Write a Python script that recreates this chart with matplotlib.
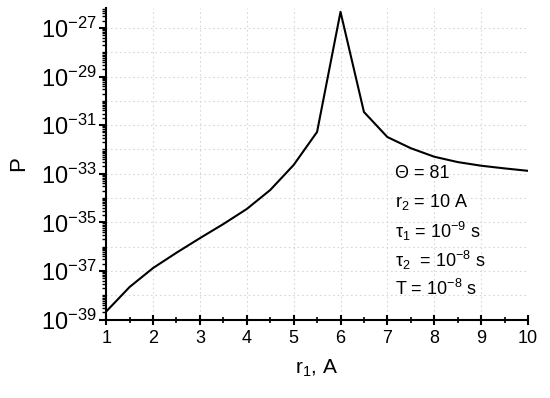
import numpy as np
import matplotlib
matplotlib.use("Agg")
import matplotlib.pyplot as plt
from matplotlib.ticker import LogLocator, FixedLocator, NullFormatter, FuncFormatter

plt.rcParams["font.family"] = ["Liberation Sans", "DejaVu Sans"]
plt.rcParams["mathtext.fontset"] = "custom"
plt.rcParams["mathtext.rm"] = "Liberation Sans"
plt.rcParams["mathtext.it"] = "Liberation Sans:italic"

# === данные ===
r1 = [1, 1.5, 2, 2.5, 3, 3.5, 4, 4.5, 5, 5.5, 6, 6.5, 7, 7.5, 8, 8.5, 9, 9.5, 10]
log_p = [-38.67, -37.66, -36.88, -36.25, -35.65, -35.07, -34.45, -33.67, -32.64,
         -31.28, -26.34, -30.46, -31.49, -31.95, -32.30, -32.52, -32.67, -32.78, -32.88]
p = [10.0 ** v for v in log_p]

params = ["Θ = 81",
          r"r$_2$ = 10 A",
          r"τ$_1$ = 10$^{-9}$ s",
          r"τ$_2$  = 10$^{-8}$ s",
          r"T = 10$^{-8}$ s"]

fig = plt.figure(figsize=(5.5, 3.98), dpi=100)
ax = fig.add_axes([0.193, 0.197, 0.767, 0.783])

ax.plot(r1, p, color="black", lw=1.5)
ax.set_yscale("log")
ax.set_xlim(1, 10)
ax.set_ylim(1e-39, 10 ** -26.18)

# оси
ax.spines["top"].set_visible(False)
ax.spines["right"].set_visible(False)
ax.spines["left"].set_linewidth(1.5)
ax.spines["bottom"].set_linewidth(1.5)

ax.xaxis.set_major_locator(FixedLocator(range(1, 11)))
ax.xaxis.set_minor_locator(FixedLocator(np.arange(1.5, 10, 1.0)))
ax.yaxis.set_major_locator(FixedLocator([10.0 ** e for e in range(-39, -26, 2)]))
ax.yaxis.set_minor_locator(LogLocator(base=10, subs=np.arange(1, 10), numticks=100))
ax.yaxis.set_minor_formatter(NullFormatter())
ax.yaxis.set_major_formatter(FuncFormatter(
    lambda v, pos: r"$\mathregular{10^{%d}}$" % round(np.log10(v))))

ax.tick_params(axis="x", which="major", direction="inout", length=7, width=1.5, labelsize=13, pad=4)
ax.tick_params(axis="x", which="minor", direction="inout", length=4, width=1.2)
ax.tick_params(axis="y", which="major", direction="out", length=5, width=1.5, labelsize=17, pad=2)
ax.tick_params(axis="y", which="minor", direction="out", length=3, width=1.0)

# сетка
for x in range(2, 11):
    ax.axvline(x, color="#d8d8d8", lw=0.8, ls=(0, (1.5, 2.5)), zorder=0)
for e in range(-38, -26):
    ax.axhline(10.0 ** e, color="#d8d8d8", lw=0.8, ls=(0, (1.5, 2.5)), zorder=0)

ax.set_xlabel(r"r$_1$, A", fontsize=15, labelpad=8)
ax.set_ylabel("P", fontsize=16, labelpad=8)

for i, s in enumerate(params):
    ax.text(0.685, 0.47 - i * 0.093, s, transform=ax.transAxes,
            fontsize=13, va="center", ha="left")

plt.savefig("out.png", dpi=100)
plt.close()
